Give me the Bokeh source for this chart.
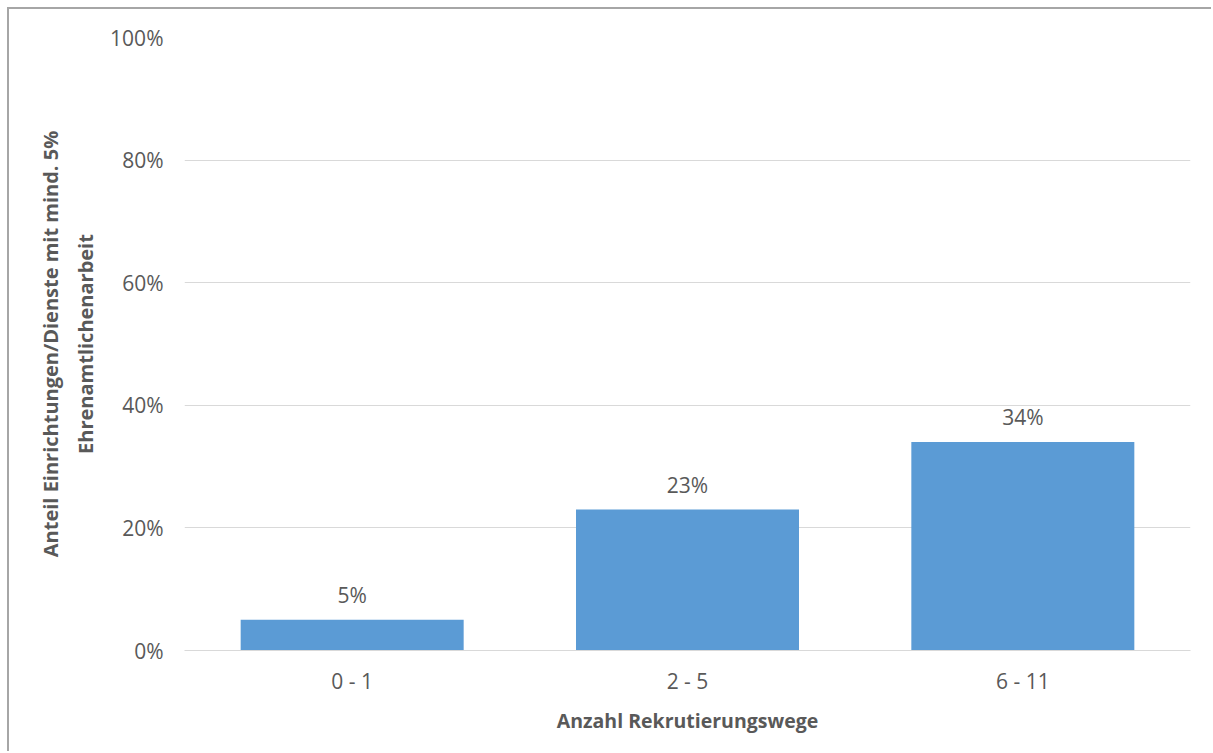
from bokeh.plotting import figure
from bokeh.models import ColumnDataSource, FixedTicker, NumeralTickFormatter, Title, Range1d
from bokeh.core.properties import value
from bokeh.embed import file_html
from bokeh.resources import INLINE

categories = ["0 - 1", "2 - 5", "6 - 11"]
shares = [0.05, 0.23, 0.34]
labels = ["5%", "23%", "34%"]
y_ticks = [0, 0.2, 0.4, 0.6, 0.8, 1.0]
x_title = "Anzahl Rekrutierungswege"
y_title_1 = "Anteil Einrichtungen/Dienste mit mind. 5%"
y_title_2 = "Ehrenamtlichenarbeit"

FONT = "Open Sans"
TXT = "#595959"
GRID = "#d9d9d9"

src = ColumnDataSource(dict(cat=categories, val=shares, lab=labels))

p = figure(x_range=categories, y_range=Range1d(0, 1.0), width=1204, height=744,
           output_backend="svg", toolbar_location=None,
           min_border_left=175, min_border_right=23, min_border_top=28, min_border_bottom=103)
p.styles = {"margin-left": "7px", "margin-top": "7px",
            "border-left": "2px solid #a6a6a6", "border-top": "2px solid #a6a6a6"}
p.outline_line_color = None
p.background_fill_color = "white"
p.border_fill_color = "white"

p.vbar(x="cat", top="val", width=0.665, source=src, color="#5b9bd5", line_color=None)
p.text(x="cat", y="val", text="lab", source=src, y_offset=-25,
       text_align="center", text_baseline="middle", text_color=TXT,
       text_font=value(FONT), text_font_size="21px")

p.xgrid.grid_line_color = None
p.ygrid.grid_line_color = GRID
p.ygrid.grid_line_width = 1
p.ygrid.ticker = FixedTicker(ticks=y_ticks)

p.yaxis.ticker = FixedTicker(ticks=y_ticks)
p.yaxis.formatter = NumeralTickFormatter(format="0%")
p.yaxis.axis_line_color = None
p.yaxis.major_tick_line_color = None
p.yaxis.minor_tick_line_color = None
p.yaxis.major_tick_out = 0
p.yaxis.major_tick_in = 0
p.yaxis.major_label_standoff = 21
p.yaxis.major_label_text_font = FONT
p.yaxis.major_label_text_font_size = "21px"
p.yaxis.major_label_text_color = TXT

p.xaxis.axis_line_color = GRID
p.xaxis.axis_line_width = 1
p.xaxis.major_tick_line_color = None
p.xaxis.minor_tick_line_color = None
p.xaxis.major_tick_out = 0
p.xaxis.major_tick_in = 0
p.xaxis.major_label_standoff = 16
p.xaxis.major_label_text_font = FONT
p.xaxis.major_label_text_font_size = "21px"
p.xaxis.major_label_text_color = TXT
p.xaxis.axis_label = x_title
p.xaxis.axis_label_standoff = 9
p.xaxis.axis_label_text_font = FONT
p.xaxis.axis_label_text_font_size = "19.5px"
p.xaxis.axis_label_text_font_style = "bold"
p.xaxis.axis_label_text_color = TXT

for txt, so in [(y_title_2, 18), (y_title_1, -7)]:
    p.add_layout(Title(text=txt, align="center", standoff=so,
                       text_font=FONT, text_font_size="20px", text_font_style="bold",
                       text_color=TXT), "left")

open("out.html", "w").write(file_html(p, INLINE))
